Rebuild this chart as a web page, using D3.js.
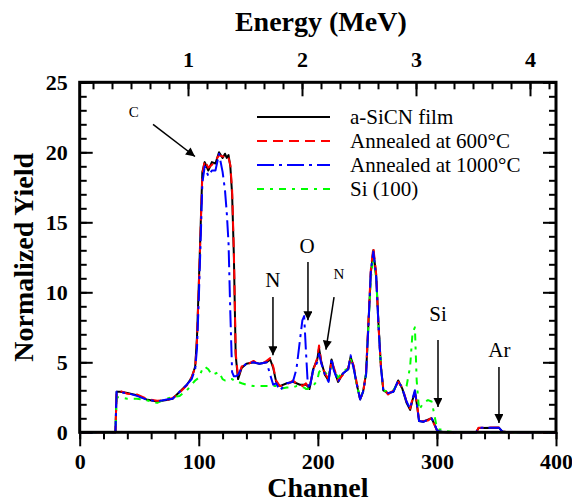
<!DOCTYPE html>
<html>
<head>
<meta charset="utf-8">
<script src="https://cdn.jsdelivr.net/npm/d3@7"></script>
<style>
  body { margin: 0; background: #fff; }
  svg { display: block; }
  svg text { font-family: "Liberation Serif", "Times New Roman", serif; fill: #000; }
  .tick text { font-weight: bold; font-size: 22px; }
  .tick line { stroke: #000; stroke-width: 2; }
</style>
</head>
<body>
<div id="chart"></div>
<script>
// channel grid shared by all four spectra
const channels = [0, 30, 31, 34, 40, 48, 56, 65, 73, 78, 84, 90, 94, 97, 98.5, 100, 101.5, 103, 105, 108, 111, 114, 117, 120, 122, 123.5, 125, 126.5, 128, 129.5, 131, 133, 136, 140, 146, 151, 157, 160, 162.5, 165, 168, 174, 179, 182, 185, 187, 188.5, 190, 191.5, 193, 196, 199.5, 201, 203, 206, 209, 211.5, 213.5, 217, 221, 225.5, 227.5, 230, 232.5, 235.5, 238, 240.5, 242.5, 244.5, 246.6, 249, 251, 253, 255, 259, 263.5, 267.5, 271, 274.5, 277.5, 279.5, 281.5, 283, 285, 288.5, 292.5, 295.5, 297.5, 300, 302, 305, 310, 315, 333, 335, 352, 355, 360, 400];

const filmYield = [0, 0, 2.9, 2.9, 2.8, 2.65, 2.35, 2.2, 2.3, 2.4, 2.9, 3.4, 3.9, 4.7, 6.8, 10.5, 14.5, 18.6, 19.3, 18.7, 19.3, 19.2, 20.0, 19.6, 19.9, 19.6, 19.8, 19.0, 17.0, 12.5, 5.5, 3.8, 4.6, 4.9, 5.0, 4.9, 5.0, 5.2, 4.6, 3.6, 3.3, 3.5, 3.6, 3.5, 3.4, 3.4, 3.4, 3.4, 3.3, 3.1, 4.5, 5.2, 6.0, 5.0, 4.1, 3.7, 5.2, 4.5, 3.6, 4.2, 4.5, 5.4, 4.7, 3.5, 2.35, 2.9, 4.2, 7.8, 11.4, 13.0, 11.2, 7.6, 4.7, 3.0, 2.8, 2.9, 3.7, 3.1, 2.1, 1.6, 2.3, 2.9, 2.1, 0.8, 0.75, 0.9, 1.0, 0.65, 0.15, 0.05, 0.02, 0, 0, 0, 0.3, 0.33, 0.05, 0, 0];

const anneal600Yield = [0, 0, 2.85, 2.95, 2.75, 2.7, 2.4, 2.25, 2.3, 2.45, 2.85, 3.35, 3.95, 4.6, 6.6, 10.3, 14.3, 18.4, 19.4, 18.9, 19.1, 19.4, 19.8, 19.7, 19.7, 19.8, 19.6, 19.1, 17.3, 12.8, 5.7, 3.9, 4.7, 4.8, 5.1, 4.8, 5.1, 5.3, 4.7, 3.7, 3.3, 3.4, 3.7, 3.5, 3.5, 3.3, 3.4, 3.5, 3.3, 3.2, 4.4, 5.3, 6.2, 4.9, 4.2, 3.8, 5.1, 4.6, 3.7, 4.1, 4.6, 5.3, 4.8, 3.6, 2.4, 2.8, 4.3, 8.0, 11.6, 13.2, 11.3, 7.5, 4.6, 3.1, 2.7, 3.0, 3.6, 3.2, 2.2, 1.7, 2.4, 2.8, 2.2, 0.85, 0.8, 0.85, 1.05, 0.6, 0.15, 0.05, 0.02, 0, 0, 0, 0.32, 0.35, 0.05, 0, 0];

const anneal1000Yield = [0, 0, 2.9, 2.85, 2.8, 2.6, 2.35, 2.2, 2.35, 2.4, 2.9, 3.4, 3.8, 4.5, 6.0, 9.5, 13.5, 17.8, 19.0, 18.3, 18.7, 18.7, 19.9, 18.6, 17.3, 15.7, 13.5, 8.5, 4.3, 4.0, 4.0, 4.1, 4.6, 4.9, 5.0, 4.9, 5.0, 4.1, 3.4, 3.5, 3.0, 3.5, 3.6, 4.5, 6.6, 8.0, 8.3, 5.8, 3.5, 3.1, 4.4, 5.0, 5.6, 4.9, 4.1, 3.6, 5.3, 4.4, 3.6, 4.2, 4.5, 5.5, 4.6, 3.5, 2.35, 2.9, 4.1, 7.7, 11.5, 12.9, 11.1, 7.5, 4.6, 3.0, 2.8, 2.9, 3.7, 3.1, 2.2, 1.7, 2.4, 3.0, 2.1, 0.8, 0.75, 0.9, 1.0, 0.7, 0.15, 0.05, 0.02, 0, 0, 0, 0.33, 0.33, 0.05, 0, 0];

const siYield = [0, 0, 2.5, 2.5, 2.4, 2.4, 2.3, 2.1, 2.4, 2.5, 2.6, 3.0, 3.4, 3.7, 3.8, 3.9, 4.2, 4.5, 4.7, 4.5, 4.1, 4.2, 4.3, 3.8, 3.7, 3.7, 3.8, 3.8, 3.8, 3.7, 3.6, 3.6, 3.5, 3.4, 3.3, 3.3, 3.3, 3.3, 3.3, 3.3, 3.1, 3.2, 3.2, 3.3, 3.3, 3.2, 3.2, 3.1, 3.1, 3.2, 3.3, 3.7, 4.3, 4.5, 4.3, 4.0, 4.9, 4.5, 3.9, 4.3, 4.6, 5.2, 4.6, 3.5, 2.4, 2.9, 4.2, 7.6, 11.0, 12.5, 11.0, 7.5, 4.6, 3.0, 2.9, 3.0, 3.6, 3.2, 3.3, 4.7, 7.1, 7.5, 3.7, 1.6, 2.1, 2.3, 2.2, 1.4, 0.3, 0.2, 0.2, 0.05, 0, 0, 0, 0, 0, 0, 0];

const seriesNames = ["a-SiCN film", "Annealed at 600\u00B0C", "Annealed at 1000\u00B0C", "Si (100)"];
const seriesValues = [filmYield, anneal600Yield, anneal1000Yield, siYield];

const channelTicks = [0, 100, 200, 300, 400];
const yieldTicks = [0, 5, 10, 15, 20, 25];
const energyTicks = [1, 2, 3, 4];

// peak labels: text, label position, arrow tail and head (channel, yield)
const peakLabels = [
  { text: "C", small: true, at: [45.5, 22.9], from: [61.6, 22.0], to: [96.8, 19.7] },
  { text: "N", small: false, at: [162.3, 10.9], from: [162.3, 9.66], to: [162.3, 5.5] },
  { text: "O", small: false, at: [190.9, 13.3], from: [191.7, 12.16], to: [191.7, 8.0] },
  { text: "N", small: true, at: [217.7, 11.3], from: [213.6, 9.66], to: [206.8, 5.9] },
  { text: "Si", small: false, at: [300.9, 8.45], from: [300.9, 6.6], to: [300.9, 1.8] },
  { text: "Ar", small: false, at: [352.5, 5.9], from: [352.1, 4.66], to: [352.1, 0.66] },
];

const width = 572, height = 503;
const margin = { top: 82.3, right: 16, bottom: 70.7, left: 79.7 };

const styles = [
  { color: "#000000", dash: null },
  { color: "#ff0000", dash: "10,6" },
  { color: "#0000ff", dash: "17,5,3,5" },
  { color: "#00ff00", dash: "7,6,3,6" },
];

const svg = d3.select("#chart").append("svg")
  .attr("width", width)
  .attr("height", height);

const x = d3.scaleLinear().domain([0, 400]).range([margin.left, width - margin.right]);
const y = d3.scaleLinear().domain([0, 25]).range([height - margin.bottom, margin.top]);
// energy axis on top: 1 MeV sits at x=188, 114 px per MeV
const e1 = 188, pxPerMeV = 114;
const eScale = d3.scaleLinear()
  .domain([1 - (e1 - margin.left) / pxPerMeV, 1 + (width - margin.right - e1) / pxPerMeV])
  .range([margin.left, width - margin.right]);

const bottomY = height - margin.bottom;

// minor ticks
svg.append("g").attr("transform", `translate(0,${bottomY})`)
  .call(d3.axisBottom(x).tickValues(d3.range(0, 401, 20)).tickSize(7).tickFormat(""))
  .call(g => g.select(".domain").remove());
svg.append("g").attr("transform", `translate(${margin.left},0)`)
  .call(d3.axisLeft(y).tickValues(d3.range(0, 26, 1)).tickSize(-7).tickFormat(""))
  .call(g => g.select(".domain").remove());
svg.append("g").attr("transform", `translate(${width - margin.right},0)`)
  .call(d3.axisRight(y).tickValues(d3.range(0, 26, 1)).tickSize(-7).tickFormat(""))
  .call(g => g.select(".domain").remove());
const eMinor = d3.range(0, 30).map(i => i / 6).filter(v => v >= eScale.domain()[0] && v <= eScale.domain()[1]);
svg.append("g").attr("transform", `translate(0,${margin.top})`)
  .call(d3.axisTop(eScale).tickValues(eMinor).tickSize(-7).tickFormat(""))
  .call(g => g.select(".domain").remove());

// major ticks + labels
svg.append("g").attr("transform", `translate(0,${bottomY})`)
  .call(d3.axisBottom(x).tickValues(channelTicks).tickSize(14).tickPadding(7))
  .call(g => g.select(".domain").remove());
svg.append("g").attr("transform", `translate(${margin.left},0)`)
  .call(d3.axisLeft(y).tickValues(yieldTicks).tickSize(-13).tickPadding(12))
  .call(g => g.select(".domain").remove());
svg.append("g").attr("transform", `translate(${width - margin.right},0)`)
  .call(d3.axisRight(y).tickValues(yieldTicks).tickSize(-13).tickFormat(""))
  .call(g => g.select(".domain").remove());
svg.append("g").attr("transform", `translate(0,${margin.top})`)
  .call(d3.axisTop(eScale).tickValues(energyTicks).tickSize(-14).tickPadding(15).tickFormat(d3.format("d")))
  .call(g => g.select(".domain").remove());

// spectra
const line = d3.line()
  .x((d, i) => x(channels[i]))
  .y(d => y(d));

const drawOrder = [0, 3, 1, 2];
drawOrder.forEach(k => {
  svg.append("path")
    .datum(seriesValues[k])
    .attr("fill", "none")
    .attr("stroke", styles[k].color)
    .attr("stroke-width", 2)
    .attr("stroke-linejoin", "round")
    .attr("stroke-dasharray", styles[k].dash)
    .attr("d", line);
});

// frame
svg.append("rect")
  .attr("x", margin.left).attr("y", margin.top)
  .attr("width", width - margin.left - margin.right)
  .attr("height", height - margin.top - margin.bottom)
  .attr("fill", "none").attr("stroke", "#000").attr("stroke-width", 3);

// arrows
svg.append("defs").append("marker")
  .attr("id", "head")
  .attr("viewBox", "0 0 10 10")
  .attr("refX", 10).attr("refY", 5)
  .attr("markerWidth", 16).attr("markerHeight", 9)
  .attr("markerUnits", "userSpaceOnUse")
  .attr("orient", "auto")
  .append("path").attr("d", "M0,0L10,5L0,10Z").attr("fill", "#000");

peakLabels.forEach(p => {
  svg.append("line")
    .attr("x1", x(p.from[0])).attr("y1", y(p.from[1]))
    .attr("x2", x(p.to[0])).attr("y2", y(p.to[1]))
    .attr("stroke", "#000").attr("stroke-width", 1.5)
    .attr("marker-end", "url(#head)");
  svg.append("text")
    .attr("x", x(p.at[0])).attr("y", y(p.at[1]))
    .attr("dy", "0.35em")
    .attr("text-anchor", "middle")
    .style("font-size", p.small ? "15px" : "21px")
    .text(p.text);
});

// legend
const legend = svg.append("g").attr("transform", "translate(257,117)");
seriesNames.forEach((name, k) => {
  const row = legend.append("g").attr("transform", `translate(0,${k * 24})`);
  row.append("line")
    .attr("x1", 0).attr("x2", 73)
    .attr("stroke", styles[k].color).attr("stroke-width", 2)
    .attr("stroke-dasharray", styles[k].dash);
  row.append("text")
    .attr("x", 93).attr("dy", "0.35em")
    .style("font-size", "21px")
    .text(name);
});

// axis titles
svg.append("text")
  .attr("x", (margin.left + width - margin.right) / 2 + 3).attr("y", 31)
  .attr("text-anchor", "middle")
  .style("font-size", "28px").style("font-weight", "bold")
  .text("Energy (MeV)");
svg.append("text")
  .attr("x", (margin.left + width - margin.right) / 2).attr("y", 497)
  .attr("text-anchor", "middle")
  .style("font-size", "28px").style("font-weight", "bold")
  .text("Channel");
svg.append("text")
  .attr("transform", `translate(33,${(margin.top + bottomY) / 2}) rotate(-90)`)
  .attr("text-anchor", "middle")
  .style("font-size", "28px").style("font-weight", "bold")
  .text("Normalized Yield");
</script>
</body>
</html>
